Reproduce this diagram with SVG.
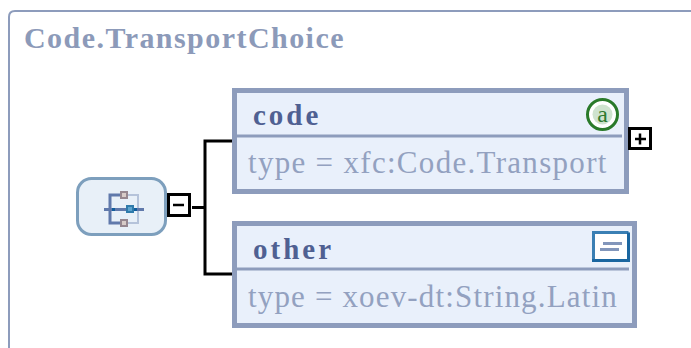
<svg xmlns="http://www.w3.org/2000/svg" width="691" height="348" viewBox="0 0 691 348">
<style>
text{font-family:"Liberation Serif","Times New Roman",serif}
.title{font-size:30px;font-weight:bold;fill:#8c9ab9;letter-spacing:1.45px}
.name{font-size:29px;font-weight:bold;fill:#4f6092;letter-spacing:3px}
.type{font-size:31px;fill:#93a1c0;letter-spacing:1.3px}
.box{fill:#e9f0fb;stroke:#8d9cbc;stroke-width:5}
.sep{stroke:#8d9cbc;stroke-width:3;fill:none}
.conn{stroke:#000;stroke-width:3;fill:none}
.toggle{fill:#fff;stroke:#000;stroke-width:3}
</style>
<g id="frame"><path d="M691 11H15Q9 11 9 17V348" fill="none" stroke="#8d9cbc" stroke-width="2"/>
<text class="title" x="24" y="48">Code.TransportChoice</text></g>
<g id="connectors">
<path class="conn" d="M192 207.500H205M232 141H205V274H232"/>
</g>
<g id="choice">
<rect x="77.500" y="178.500" width="88" height="56" rx="14" fill="#e8f0f8" stroke="#7d9fbd" stroke-width="3"/>
<path d="M121 195H110V223H121" fill="none" stroke="#6079ab" stroke-width="3"/>
<path d="M128 195H138V223H128" fill="none" stroke="#b5c3da" stroke-width="2"/>
<path d="M104 209.500H144" stroke="#6079ab" stroke-width="3"/>
<path d="M112 209.500H115M134 209.500H137" stroke="#0f5c9c" stroke-width="3"/>
<rect x="121" y="192" width="6" height="6" fill="#d8ccc8" stroke="#96878f" stroke-width="2"/>
<rect x="121" y="220" width="6" height="6" fill="#d8ccc8" stroke="#96878f" stroke-width="2"/>
<rect x="127" y="206" width="6" height="6" fill="#5da5cf" stroke="#2f7bab" stroke-width="2"/>
</g>
<g id="choice-toggle">
<rect class="toggle" x="168.500" y="194.500" width="21" height="21"/>
<path d="M173 205H184" stroke="#000" stroke-width="2.500"/>
</g>
<g id="code">
<rect class="box" x="234.500" y="90.500" width="392" height="101"/>
<path class="sep" d="M237 136H622"/>
<text class="name" x="253" y="125">code</text>
<text class="type" x="248" y="173">type = xfc:Code.Transport</text>
<circle cx="602.500" cy="114.500" r="15" fill="#fff" stroke="#2a7a2a" stroke-width="3"/>
<circle cx="602.500" cy="114.500" r="10" fill="#cfe3cf"/>
<text x="602.500" y="122" font-size="24" text-anchor="middle" fill="#2f7a2f">a</text>
</g>
<g id="code-toggle">
<rect class="toggle" x="629.500" y="128.500" width="21" height="20"/>
<path d="M635 139H646M640 133.500V144.500" stroke="#000" stroke-width="2.500"/>
</g>
<g id="other">
<rect class="box" x="234.500" y="223.500" width="400" height="102"/>
<path class="sep" d="M237 269H629"/>
<text class="name" x="253" y="259">other</text>
<text class="type" x="248" y="307" textLength="370">type = xoev-dt:String.Latin</text>
<rect x="594" y="233" width="35" height="28" fill="#fff" stroke="#cfe2f0" stroke-width="2"/>
<path d="M593.500 261V232.500H628.500" fill="none" stroke="#3a7fb4" stroke-width="3"/>
<path d="M592 260.500H628.500V232.500" fill="none" stroke="#1a66a0" stroke-width="3"/>
<path d="M603 243.500H622M600 249.500H619" stroke="#8296bb" stroke-width="3"/>
</g>
</svg>
